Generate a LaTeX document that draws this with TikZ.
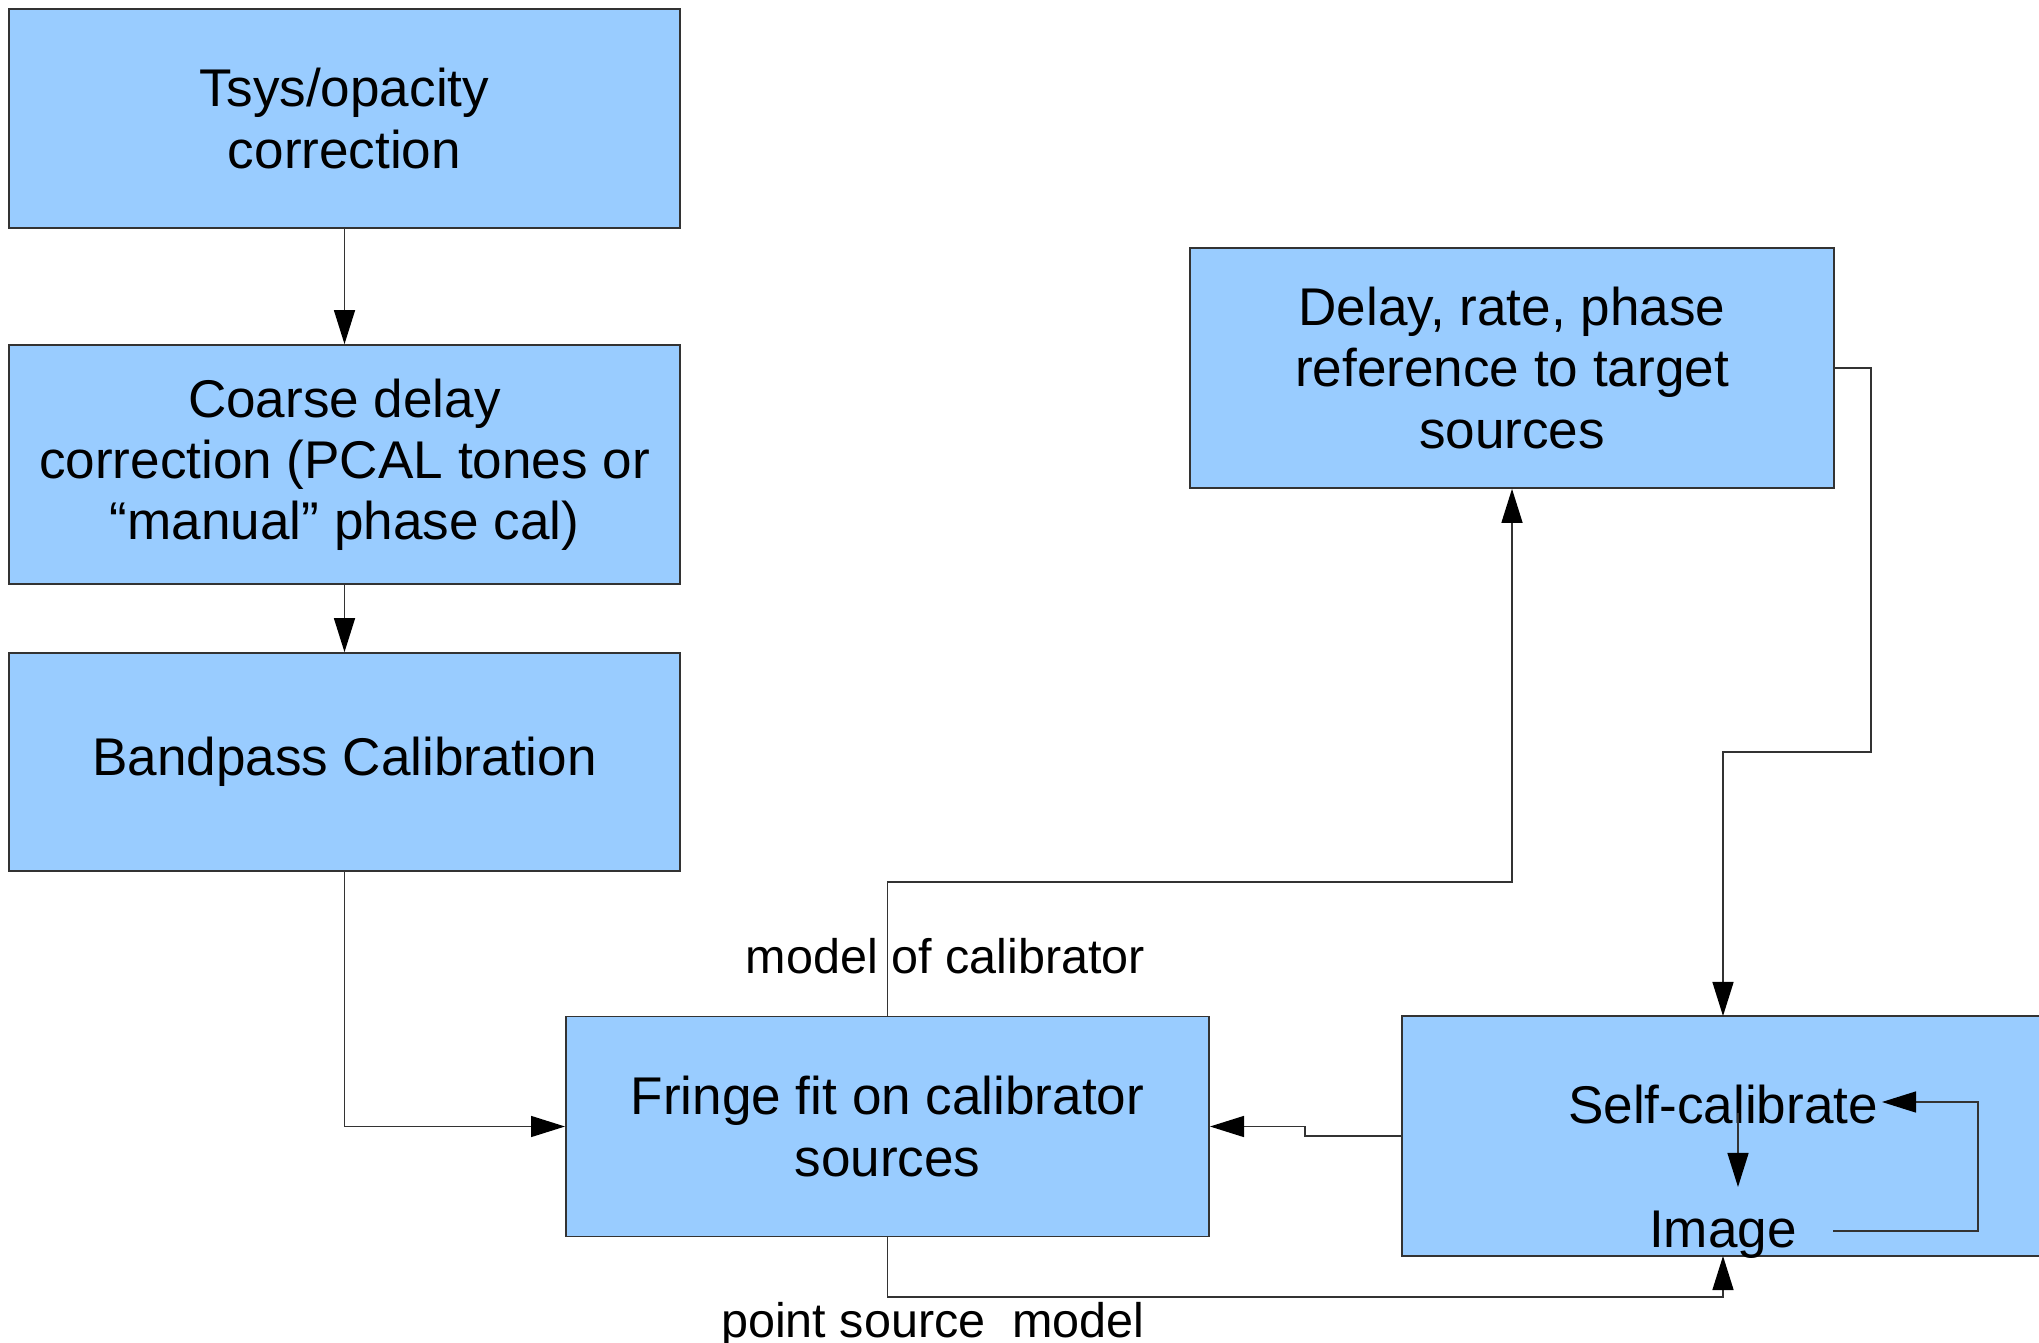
\documentclass[tikz,border=0pt]{standalone}
\usepackage{fontspec}
\setmainfont{Liberation Sans}
\usetikzlibrary{arrows.meta}
\definecolor{boxblue}{HTML}{99CCFF}
\definecolor{edge}{HTML}{333333}
\begin{document}
\begin{tikzpicture}[x=0.01cm,y=-0.01cm,
  box/.style={draw=edge, fill=boxblue, line width=0.45pt, inner sep=0pt, align=center,
    font=\fontsize{15.1}{17.4}\selectfont},
  lbl/.style={inner sep=0pt, font=\fontsize{13.8}{16}\selectfont},
  txt/.style={inner sep=0pt, font=\fontsize{15.1}{17.4}\selectfont},
  conn/.style={draw=edge, line width=0.4pt},
  arr/.style={conn, -{Triangle[length=0.34cm,width=0.21cm,color=black,fill=black]}}]
\useasboundingbox (0,0) rectangle (2039,1343);
\fill[white] (0,0) rectangle (2039,1343);
% boxes
\node[box, minimum width=6.71cm, minimum height=2.19cm] (b1) at (344.5,118.5) {Tsys/opacity\\correction};
\node[box, minimum width=6.71cm, minimum height=2.39cm] (b2) at (344.5,464.5) {Coarse delay\\correction (PCAL tones or\\``manual'' phase cal)};
\node[box, minimum width=6.71cm, minimum height=2.18cm] (b3) at (344.5,762) {Bandpass Calibration};
\node[box, minimum width=6.44cm, minimum height=2.40cm] (b4) at (1512,368) {Delay, rate, phase\\reference to target\\sources};
\node[box, minimum width=6.43cm, minimum height=2.20cm] (b5) at (887.5,1126.5) {Fringe fit on calibrator\\sources};
\node[box, minimum width=6.80cm, minimum height=2.40cm] (b6) at (1742,1136) {};
% inner texts
\node[txt, anchor=base] (sc) at (1723,1123) {Self-calibrate};
\node[txt, anchor=base] (im) at (1723,1247) {Image};
% labels
\node[lbl, anchor=base] (l1) at (945.5,973) {model of calibrator};
\node[lbl, anchor=base] (l2) at (933,1337) {point source\ \ model};
% coordinates
\coordinate (c1) at (887.5,882);
\coordinate (c2) at (1871,752);
\coordinate (b6top) at (1723,1016);
\coordinate (b6bot) at (1723,1256);
\coordinate (c3) at (1305,1136);
\coordinate (c4) at (887.5,1297);
\coordinate (s1) at (1738,1113);
\coordinate (s2) at (1738,1187);
\coordinate (r1) at (1833,1231);
\coordinate (r2) at (1978,1102);
\coordinate (r3) at (1882,1102);
% connectors
\draw[arr] (b1) -- (b2);
\draw[arr] (b2) -- (b3);
\draw[arr] (b3.south) |- (b5.west);
\draw[arr] (b5.north) -- (c1) -| (b4.south);
\draw[arr] (b4.east) -| (c2) -| (b6top);
\draw[arr] (b6.west) -- (c3) |- (b5.east);
\draw[arr] (b5.south) -- (c4) -| (b6bot);
\draw[arr] (s1) -- (s2);
\draw[arr] (r1) -| (r2) -- (r3);
\end{tikzpicture}
\end{document}
